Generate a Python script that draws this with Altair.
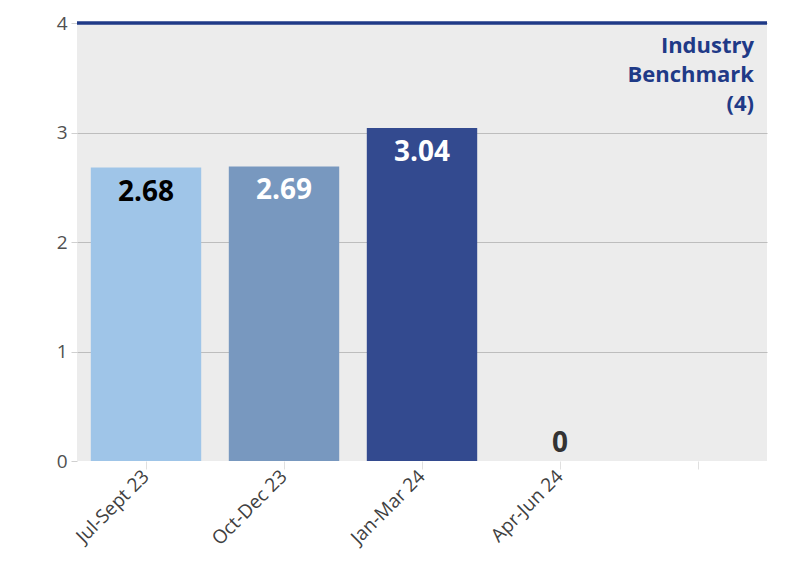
import altair as alt
import pandas as pd

categories = ["Jul-Sept 23", "Oct-Dec 23", "Jan-Mar 24", "Apr-Jun 24", "blank"]
values = [2.68, 2.69, 3.04, 0]
bar_colors = ["#9fc5e8", "#7898bf", "#334a8f", "#334a8f"]
label_colors = ["#000000", "#ffffff", "#ffffff", "#333333"]
benchmark = 4
benchmark_label = "Industry\nBenchmark\n(4)"

df = pd.DataFrame({
    "cat": categories[:4],
    "value": values,
    "color": bar_colors,
    "lcolor": label_colors,
    "label": [("%g" % v) if v == 0 else "%.2f" % v for v in values],
})
bdf = pd.DataFrame({"value": [benchmark], "label": [benchmark_label]})

FONT = "Open Sans"
W, H = 690, 438

x = alt.X("cat:N", sort=categories,
          scale=alt.Scale(domain=categories, paddingInner=0.2, paddingOuter=0.1),
          axis=alt.Axis(title=None, labelAngle=-45, labelAlign="right", labelBaseline="middle",
                        labelFontSize=19, labelColor="#404040", labelFont=FONT,
                        labelExpr="datum.value == 'blank' ? '' : datum.value",
                        domain=False, ticks=True, tickColor="#e0e0e0", tickSize=8,
                        labelPadding=4, grid=False))
y = alt.Y("value:Q", scale=alt.Scale(domain=[0, 4], nice=False),
          axis=alt.Axis(title=None, values=[0, 1, 2, 3, 4], format="d", labelFontSize=19,
                        labelColor="#505050", labelFont=FONT, domain=False,
                        tickColor="#d0d0d0", tickSize=6, labelPadding=4,
                        grid=True, gridColor="#bdbdbd", gridWidth=1,
                        gridOpacity={"condition": {"test": "datum.value === 0", "value": 0}, "value": 1}))

bars = alt.Chart(df).mark_bar().encode(
    x=x, y=y, color=alt.Color("color:N", scale=None))

labels_pos = alt.Chart(df).transform_filter("datum.value > 0").mark_text(
    baseline="top", dy=11, fontSize=28, fontWeight="bold", font=FONT
).encode(x=x, y="value:Q", text="label:N", color=alt.Color("lcolor:N", scale=None))

labels_zero = alt.Chart(df).transform_filter("datum.value == 0").mark_text(
    baseline="bottom", dy=-3, fontSize=28, fontWeight="bold", font=FONT, color="#333333"
).encode(x=x, y="value:Q", text="label:N")

brule = alt.Chart(bdf).mark_rule(color="#1f3a87", strokeWidth=3.5).encode(y="value:Q")

btext = alt.Chart(bdf).mark_text(
    align="right", baseline="top", dy=13, fontSize=22, fontWeight="bold",
    font=FONT, color="#1f3a87", lineBreak="\n", lineHeight=29
).encode(x=alt.value(W - 13), y="value:Q", text="label:N")

chart = alt.layer(bars, labels_pos, labels_zero, brule, btext).properties(
    width=W, height=H,
    autosize=alt.AutoSizeParams(type="none"),
    padding={"left": 69, "top": 15, "right": 20, "bottom": 100},
    background="white",
).configure_view(fill="#ececec", stroke=None)

chart.save("out.html", embed_options={"renderer": "svg", "actions": False})
